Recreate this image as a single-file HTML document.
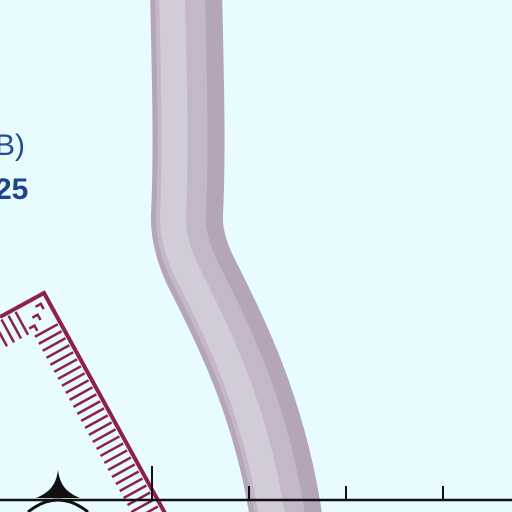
<!DOCTYPE html>
<html><head><meta charset="utf-8"><style>
html,body{margin:0;padding:0;background:#e8fbfe;}
svg{display:block}
text{font-family:"Liberation Sans",sans-serif;}
</style></head><body>
<svg width="512" height="512" viewBox="0 0 512 512">
<rect width="512" height="512" fill="#e8fbfe"/>
<path d="M186,-10 C188,80 190,150 187,215 Q186,240 200,270 C230,330 272,410 288,530" fill="none" stroke="#b4a5b9" stroke-width="72"/>
<path d="M180,-10 C182,80 184,150 181,215 Q180,240 194,270 C224,330 266,410 282,530" fill="none" stroke="#c3b7c9" stroke-width="50"/>
<path d="M172,-10 C174,80 176,150 173,215 Q172,240 186,270 C216,330 258,410 274,530" fill="none" stroke="#d2cbd8" stroke-width="26"/>
<text x="-5" y="155" font-size="30" fill="#1f4f8f">B)</text>
<text x="-5" y="199" font-size="30" font-weight="bold" fill="#1a4788">25</text>
<g id="hatch" stroke="#8e1f4e" fill="none">
<polyline points="0,317 44,293 166,515" stroke-width="4"/>
</g>
<line x1="0" y1="500" x2="512" y2="500" stroke="#111" stroke-width="2.5"/>
<line x1="152" y1="466" x2="152" y2="500" stroke="#111" stroke-width="2"/>
<line x1="249" y1="486" x2="249" y2="500" stroke="#111" stroke-width="2"/>
<line x1="346" y1="486" x2="346" y2="500" stroke="#111" stroke-width="2"/>
<line x1="443" y1="486" x2="443" y2="500" stroke="#111" stroke-width="2"/>
<path d="M58,470 C60,485 66,492 80,498 L36,498 C50,492 56,485 58,470 Z" fill="#111"/>
<path d="M28,512 Q58,488 88,512" fill="none" stroke="#111" stroke-width="3"/>
</svg>
<script>
const g=document.getElementById('hatch');
function tick(pts){const l=document.createElementNS('http://www.w3.org/2000/svg','polyline');


l.setAttribute('points',pts);l.setAttribute('stroke-width','2.5');g.appendChild(l);}
const ax=122,ay=222,AL=Math.hypot(ax,ay),ux=ax/AL,uy=ay/AL,nx=-uy,ny=ux;
const bx=-44,by=24,BL=Math.hypot(bx,by),vx=bx/BL,vy=by/BL,mx=vy,my=-vx;
const cx=44,cy=293;
// nested chevrons at corner
for(let d=8;d<=24;d+=8){
 const ix=cx+nx*d+mx*d, iy=cy+ny*d+my*d;
 tick(`${ix+vx*6},${iy+vy*6} ${ix},${iy} ${ix+ux*6},${iy+uy*6}`);
}
for(let s=34;s<AL;s+=8){const x=cx+ux*s+nx*3,y=cy+uy*s+ny*3;tick(`${x},${y} ${x+nx*26},${y+ny*26}`);}
for(let s=34;s<BL+10;s+=8){const x=cx+vx*s+mx*3,y=cy+vy*s+my*3;tick(`${x},${y} ${x+mx*26},${y+my*26}`);}
</script>
</body></html>
